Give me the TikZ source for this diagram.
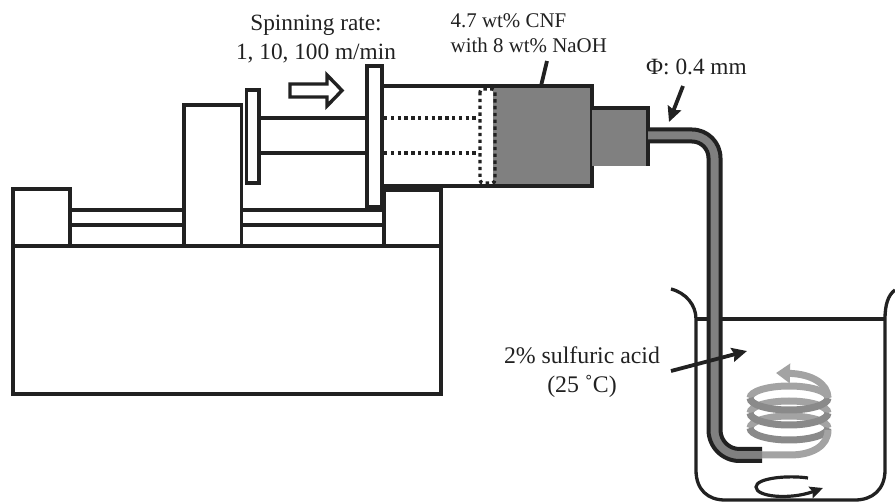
\documentclass[tikz,border=0pt]{standalone}
\usepackage{fontspec}
\setmainfont{Liberation Serif}
\usetikzlibrary{arrows.meta}
\definecolor{ink}{gray}{0.13}
\definecolor{fillg}{gray}{0.5}
\definecolor{coillight}{gray}{0.64}
\definecolor{coildark}{gray}{0.54}
\tikzset{
 part/.style={draw=ink,line width=3.3pt,fill=white,inner sep=0pt,outer sep=0pt,anchor=north west},
 thin part/.style={draw=ink,line width=3.3pt},
 tube/.style={draw=ink,line width=4pt},
 dots/.style={draw=ink,line width=3.4pt,dash pattern=on 3.4pt off 3.4pt},
 lbl/.style={font=\fontsize{23.3}{28.5}\selectfont,align=center,inner sep=0pt,text=ink},
 lbla/.style={font=\fontsize{23.8}{28.5}\selectfont,align=center,inner sep=0pt,text=ink},
 lbls/.style={font=\fontsize{20.9}{25.5}\selectfont,align=left,inner sep=0pt,text=ink},
 pointer/.style={draw=ink,line width=3.8pt,-{Stealth[length=15pt,width=14pt,inset=2pt]}},
 coilb/.style={draw=coillight,line width=7pt},
 coilf/.style={draw=coildark,line width=7pt},
}
\begin{document}
\begin{tikzpicture}[x=1pt,y=-1pt]
\useasboundingbox (0,0) rectangle (895,502);
% base
\node[part,minimum width=428pt,minimum height=148pt] (base) at (13,246) {};
\node[part,minimum width=57pt,minimum height=57pt] (lblock) at (13,189) {};
\node[part,minimum width=57.5pt,minimum height=141pt] (post) at (184,105) {};
\node[part,minimum width=57pt,minimum height=56pt] (rblock) at (384,190) {};
\draw[thin part] (70,210)--(184,210) (70,225)--(184,225) (242,210)--(384,210) (242,225)--(384,225);
% plunger
\draw[thin part] (259,118)--(367,118) (259,153)--(367,153);
\node[part,minimum width=12.5pt,minimum height=93pt] (plate) at (246.5,90) {};
% barrel
\fill[fillg] (493,86) rectangle (592,186);
\draw[thin part] (382,86)--(592,86)--(592,186)--(382,186);
\node[part,minimum width=15pt,minimum height=141pt] (flange) at (367,66) {};
\draw[dots] (384,118)--(478,118) (384,153)--(478,153);
\draw[dots,rounded corners=3pt] (480,89)--(480,183)--(495,183)--(495,89)--cycle;
% nozzle
\fill[fillg] (592,108) rectangle (648,166);
\draw[thin part] (592,108)--(648,108)--(648,166);
% beaker
\draw[thin part] (671,289) .. controls (686,293) and (696,305) .. (696,319) -- (696,470) .. controls (696,490) and (708,500) .. (725,500) -- (855,500) .. controls (872,500) and (885,490) .. (885,470) -- (885,319) .. controls (885,305) and (888,295) .. (895,290);
\draw[thin part] (696,319)--(885,319);
% coil
\draw[coilb] (750,398) arc[start angle=180,end angle=360,x radius=39,y radius=12];
\draw[coilb] (750,413) arc[start angle=180,end angle=360,x radius=39,y radius=12];
\draw[coilb] (750,428) arc[start angle=180,end angle=360,x radius=39,y radius=12];
\draw[coilf] (750,398) arc[start angle=180,end angle=0,x radius=39,y radius=12];
\draw[coilf] (750,413) arc[start angle=180,end angle=0,x radius=39,y radius=12];
\draw[coilf] (750,428) arc[start angle=180,end angle=0,x radius=39,y radius=12];
\draw[coilb] (762,455)--(790,455) .. controls (812,455) and (828,446) .. (828,430);
\draw[draw=coillight,line width=7pt,-{Stealth[length=14pt,width=19pt,inset=0pt]}] (828,398) .. controls (828,384) and (812,374) .. (776,373);
% needle
\draw[draw=fillg,line width=9pt] (648,135.5)--(692,135.5) arc[start angle=-90,end angle=0,radius=22.5] --(714.5,430) arc[start angle=180,end angle=90,radius=25] --(762,455);
\draw[tube] (648,129.5)--(692,129.5) arc[start angle=-90,end angle=0,radius=28.5] --(720.5,430) arc[start angle=180,end angle=90,radius=19] --(762,449);
\draw[tube] (648,141.5)--(692,141.5) arc[start angle=-90,end angle=0,radius=16.5] --(708.5,430) arc[start angle=180,end angle=90,radius=31] --(762,461);
% labels
\node[lbl] (rate) at (316,39) {Spinning rate:\\1, 10, 100 m/min};
\node[lbls,anchor=west] (cnf) at (450.5,33) {4.7 wt\% CNF\\with 8 wt\% NaOH};
\node[lbl,anchor=west] (phi) at (646,67) {Φ: 0.4 mm};
\node[lbla] (acid) at (582,372) {2\% sulfuric acid\\(25 ˚C)};
% pointers
\coordinate (c1) at (547,61); \coordinate (c2) at (541,86);
\draw[draw=ink,line width=3.8pt] (c1)--(c2);
\coordinate (p1) at (683,86); \coordinate (p2) at (669,122);
\draw[pointer] (p1)--(p2);
\coordinate (a1) at (671,371); \coordinate (a2) at (747,351);
\draw[pointer] (a1)--(a2);
% hollow arrow
\draw[draw=ink,line width=3.4pt,fill=white,line join=miter] (290,84)--(327,84)--(327,75)--(342,90.5)--(327,106)--(327,97)--(290,97)--cycle;
% stirrer
\draw[draw=ink,line width=3.2pt,-{Stealth[length=13pt,width=12pt,inset=2pt]}] (808,478) .. controls (788,475) and (756,478) .. (756,487) .. controls (756,497) and (790,500) .. (823,488);
\end{tikzpicture}
\end{document}
